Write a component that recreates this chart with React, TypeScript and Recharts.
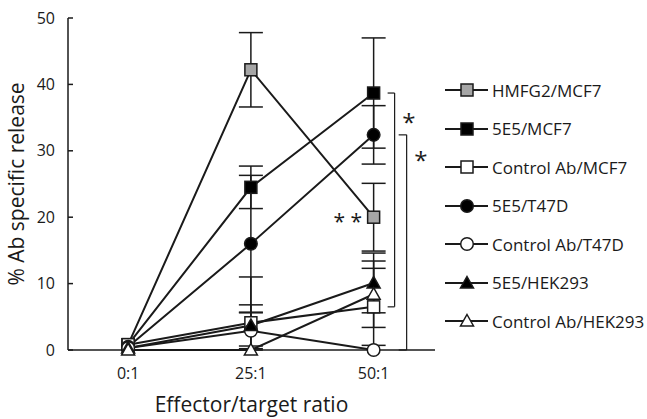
import { ComposedChart, Line, XAxis, YAxis, ErrorBar, ReferenceLine, ReferenceDot, Legend } from 'recharts'

const RATIOS = ['0:1', '25:1', '50:1']
const Y_TICKS = [0, 10, 20, 30, 40, 50]

// % Ab specific release, mean and error at 0:1, 25:1, 50:1
const HMFG2_MCF7 = [0.8, 42.2, 20]
const HMFG2_MCF7_ERR = [0, 5.6, 5.1]
const E5_MCF7 = [0.8, 24.5, 38.7]
const E5_MCF7_ERR = [0, 3.2, 8.3]
const CTRL_MCF7 = [0.8, 4.1, 6.5]
const CTRL_MCF7_ERR = [0, 6.9, 5.8]
const E5_T47D = [0.5, 16, 32.4]
const E5_T47D_ERR = [0, 10.3, 4.4]
const CTRL_T47D = [0.3, 2.9, 0]
const CTRL_T47D_ERR = [0, 2.7, 0]
const E5_HEK293 = [0.3, 3.7, 10.1]
const E5_HEK293_ERR = [0, 3.1, 4.5]
const CTRL_HEK293 = [0, 0, 8.4]
const CTRL_HEK293_ERR = [0, 0, 5]

type Shape = 'square' | 'circle' | 'triangle'

const SERIES: { key: string; name: string; values: number[]; errors: number[]; shape: Shape; fill: string }[] = [
  { key: 'hmfg2Mcf7', name: 'HMFG2/MCF7', values: HMFG2_MCF7, errors: HMFG2_MCF7_ERR, shape: 'square', fill: '#a6a6a6' },
  { key: 'e5Mcf7', name: '5E5/MCF7', values: E5_MCF7, errors: E5_MCF7_ERR, shape: 'square', fill: '#000' },
  { key: 'ctrlMcf7', name: 'Control Ab/MCF7', values: CTRL_MCF7, errors: CTRL_MCF7_ERR, shape: 'square', fill: '#fff' },
  { key: 'e5T47d', name: '5E5/T47D', values: E5_T47D, errors: E5_T47D_ERR, shape: 'circle', fill: '#000' },
  { key: 'ctrlT47d', name: 'Control Ab/T47D', values: CTRL_T47D, errors: CTRL_T47D_ERR, shape: 'circle', fill: '#fff' },
  { key: 'e5Hek', name: '5E5/HEK293', values: E5_HEK293, errors: E5_HEK293_ERR, shape: 'triangle', fill: '#000' },
  { key: 'ctrlHek', name: 'Control Ab/HEK293', values: CTRL_HEK293, errors: CTRL_HEK293_ERR, shape: 'triangle', fill: '#fff' },
]

const FONT = '"Open Sans", sans-serif'
const INK = '#1a1a1a'

function Marker({ cx, cy, shape, fill }: { cx: number; cy: number; shape: Shape; fill: string }) {
  if (shape === 'square') {
    return <rect x={cx - 6} y={cy - 6} width={12} height={12} fill={fill} stroke={INK} strokeWidth={1.5} />
  }
  if (shape === 'circle') {
    return <circle cx={cx} cy={cy} r={6.3} fill={fill} stroke={INK} strokeWidth={1.5} />
  }
  return (
    <polygon
      points={`${cx},${cy - 6.5} ${cx + 6.5},${cy + 5} ${cx - 6.5},${cy + 5}`}
      fill={fill}
      stroke={INK}
      strokeWidth={1.5}
    />
  )
}

function LegendBox() {
  return (
    <div style={{ fontFamily: FONT, fontSize: 17, color: INK }}>
      {SERIES.map(s => (
        <div key={s.key} style={{ display: 'flex', alignItems: 'center', height: 38.5 }}>
          <svg width={47} height={20} style={{ display: 'block' }}>
            <line x1={0} y1={10} x2={43} y2={10} stroke={INK} strokeWidth={2} />
            <Marker cx={22} cy={10} shape={s.shape} fill={s.fill} />
          </svg>
          <span>{s.name}</span>
        </div>
      ))}
    </div>
  )
}

export default function App() {
  const data = RATIOS.map((label, i) => {
    const row: Record<string, unknown> = { x: i, label }
    for (const s of SERIES) {
      const v = s.values[i]
      const e = s.errors[i]
      row[s.key] = v
      // whiskers stop at the x axis
      row[`${s.key}Err`] = e > 0 ? [Math.min(e, v), e] : null
    }
    return row
  })

  // significance brackets at 50:1
  const b1Top = E5_MCF7[2]
  const b1Bottom = CTRL_MCF7[2]
  const b2Top = E5_T47D[2]
  const b2Bottom = CTRL_T47D[2]

  return (
    <div style={{ position: 'absolute', left: 0, top: 0, width: 647, height: 419, background: '#fff', fontFamily: FONT }}>
      <ComposedChart width={647} height={419} data={data} margin={{ top: 18, right: 212, bottom: 0, left: 0 }}>
        <XAxis
          type="number"
          dataKey="x"
          domain={[-0.49, 2.5]}
          ticks={[0, 1, 2]}
          tickFormatter={(v: number) => RATIOS[v]}
          tickLine={false}
          tickMargin={12}
          height={69}
          axisLine={{ stroke: INK, strokeWidth: 1.5 }}
          tick={{ fontSize: 16, fill: INK, fontFamily: FONT }}
          label={{ value: 'Effector/target ratio', position: 'insideBottom', offset: 7, fontSize: 21, fill: INK, fontFamily: FONT }}
        />
        <YAxis
          type="number"
          domain={[0, 50]}
          ticks={Y_TICKS}
          width={68}
          tickSize={-5}
          tickMargin={18}
          axisLine={{ stroke: INK, strokeWidth: 1.5 }}
          tickLine={{ stroke: INK, strokeWidth: 1.5 }}
          tick={{ fontSize: 16, fill: INK, fontFamily: FONT }}
          label={{
            value: '% Ab specific release',
            angle: -90,
            position: 'insideLeft',
            offset: 17,
            fontSize: 21,
            fill: INK,
            fontFamily: FONT,
            style: { textAnchor: 'middle' },
          }}
        />
        {SERIES.map(s => (
          <Line
            key={s.key}
            dataKey={s.key}
            name={s.name}
            type="linear"
            stroke={INK}
            strokeWidth={2}
            isAnimationActive={false}
            activeDot={false}
            dot={(p: { cx?: number; cy?: number; index?: number }) => (
              <Marker key={`${s.key}-${p.index}`} cx={p.cx ?? 0} cy={p.cy ?? 0} shape={s.shape} fill={s.fill} />
            )}
          >
            <ErrorBar dataKey={`${s.key}Err`} direction="y" width={12} stroke={INK} strokeWidth={1.5} isAnimationActive={false} />
          </Line>
        ))}
        <ReferenceLine segment={[{ x: 2.114, y: b1Top }, { x: 2.171, y: b1Top }]} stroke={INK} strokeWidth={1.2} ifOverflow="visible" />
        <ReferenceLine segment={[{ x: 2.171, y: b1Top }, { x: 2.171, y: b1Bottom }]} stroke={INK} strokeWidth={1.2} ifOverflow="visible" />
        <ReferenceLine segment={[{ x: 2.114, y: b1Bottom }, { x: 2.171, y: b1Bottom }]} stroke={INK} strokeWidth={1.2} ifOverflow="visible" />
        <ReferenceLine segment={[{ x: 2.204, y: b2Top }, { x: 2.269, y: b2Top }]} stroke={INK} strokeWidth={1.2} ifOverflow="visible" />
        <ReferenceLine segment={[{ x: 2.269, y: b2Top }, { x: 2.269, y: b2Bottom }]} stroke={INK} strokeWidth={1.2} ifOverflow="visible" />
        <ReferenceLine segment={[{ x: 2.204, y: b2Bottom }, { x: 2.269, y: b2Bottom }]} stroke={INK} strokeWidth={1.2} ifOverflow="visible" />
        <ReferenceDot x={2.288} y={34.3} r={0} ifOverflow="visible" label={{ value: '*', position: 'center', fontSize: 24, fill: INK, fontFamily: FONT }} />
        <ReferenceDot x={2.384} y={28.6} r={0} ifOverflow="visible" label={{ value: '*', position: 'center', fontSize: 24, fill: INK, fontFamily: FONT }} />
        <ReferenceDot x={1.79} y={19.4} r={0} ifOverflow="visible" label={{ value: '* *', position: 'center', fontSize: 21, fill: INK, fontFamily: FONT }} />
        <Legend
          layout="vertical"
          align="center"
          verticalAlign="middle"
          content={() => <LegendBox />}
          wrapperStyle={{ left: 445, top: 70.75, width: 202 }}
        />
      </ComposedChart>
    </div>
  )
}
